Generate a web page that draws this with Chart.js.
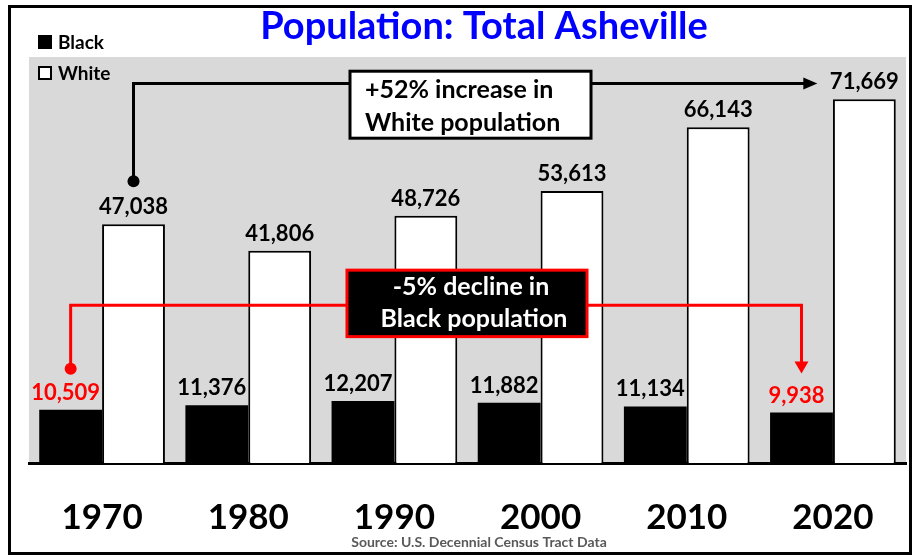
<!DOCTYPE html>
<html>
<head>
<meta charset="utf-8">
<script src="https://cdn.jsdelivr.net/npm/chart.js@4.4.1/dist/chart.umd.min.js"></script>
<style>
  body { margin: 0; background: #fff; }
  canvas { display: block; }
</style>
</head>
<body>
<canvas id="chart" width="913" height="557"></canvas>
<script>
// Dados
const anos = ['1970', '1980', '1990', '2000', '2010', '2020'];
const populacaoNegra = [10509, 11376, 12207, 11882, 11134, 9938];
const populacaoBranca = [47038, 41806, 48726, 53613, 66143, 71669];
const titulo = 'Population: Total Asheville';
const fonte = 'Source: U.S. Decennial Census Tract Data';
const notaBranca = ['+52% increase in', 'White population'];
const notaNegra = ['-5% decline in', 'Black population'];

const FONTE = 'Lato, "Open Sans", sans-serif';
const CINZA = '#d9d9d9';

// Fundo cinza, moldura, título, legenda e fonte
const fundoPlugin = {
  id: 'fundo',
  beforeDraw(chart) {
    const { ctx, chartArea: a } = chart;
    ctx.save();
    ctx.fillStyle = '#fff';
    ctx.fillRect(0, 0, chart.width, chart.height);
    ctx.fillStyle = CINZA;
    ctx.fillRect(a.left, a.top, a.right - a.left, a.bottom - a.top);
    ctx.restore();
  },
  afterDraw(chart) {
    const { ctx } = chart;
    ctx.save();
    // moldura
    ctx.strokeStyle = '#000';
    ctx.lineWidth = 3;
    ctx.strokeRect(9.5, 6.5, 901, 547);
    // título
    ctx.fillStyle = '#0000ff';
    ctx.font = `bold 38px ${FONTE}`;
    ctx.textAlign = 'center';
    ctx.textBaseline = 'middle';
    ctx.fillText(titulo, 484, 27);
    // legenda
    ctx.font = `bold 19px ${FONTE}`;
    ctx.textAlign = 'left';
    ctx.fillStyle = '#000';
    ctx.fillRect(38, 35, 14, 14);
    ctx.fillText(chart.data.datasets[0].label, 58, 43);
    ctx.fillStyle = '#fff';
    ctx.fillRect(39, 67, 12, 12);
    ctx.lineWidth = 2;
    ctx.strokeRect(39, 67, 12, 12);
    ctx.fillStyle = '#000';
    ctx.fillText(chart.data.datasets[1].label, 58, 74);
    // fonte dos dados
    ctx.fillStyle = '#595959';
    ctx.font = `bold 14px ${FONTE}`;
    ctx.textAlign = 'center';
    ctx.fillText(fonte, 479, 542);
    ctx.restore();
  }
};

// ponta de seta (tam = meia largura, comp = comprimento)
function seta(ctx, x, y, dir, cor, tam, comp) {
  ctx.fillStyle = cor;
  ctx.beginPath();
  if (dir === 'direita') {
    ctx.moveTo(x, y);
    ctx.lineTo(x - comp, y - tam);
    ctx.lineTo(x - comp, y + tam);
  } else {
    ctx.moveTo(x, y);
    ctx.lineTo(x - tam, y - comp);
    ctx.lineTo(x + tam, y - comp);
  }
  ctx.closePath();
  ctx.fill();
}

// Rótulos das barras e anotações
const rotulosPlugin = {
  id: 'rotulos',
  afterDatasetsDraw(chart) {
    const { ctx } = chart;
    const y = chart.scales.y;
    const pretas = chart.getDatasetMeta(0).data;
    const brancas = chart.getDatasetMeta(1).data;
    const ultimo = anos.length - 1;
    ctx.save();
    ctx.font = `bold 22px ${FONTE}`;
    ctx.textAlign = 'center';
    ctx.textBaseline = 'alphabetic';
    pretas.forEach((bar, i) => {
      ctx.fillStyle = (i === 0 || i === ultimo) ? '#ff0000' : '#000';
      ctx.fillText(populacaoNegra[i].toLocaleString('en-US'), bar.x - 5, bar.y - 10);
    });
    brancas.forEach((bar, i) => {
      ctx.fillStyle = '#000';
      ctx.fillText(populacaoBranca[i].toLocaleString('en-US'), bar.x, bar.y - 10);
    });

    // anotação branca: ponto acima de 1970 até 2020
    const bx = brancas[0].x;
    const by = brancas[0].y - 43;
    const linhaY = y.getPixelForValue(74800);
    ctx.strokeStyle = '#000';
    ctx.lineWidth = 3;
    ctx.beginPath();
    ctx.moveTo(bx, by);
    ctx.lineTo(bx, linhaY);
    ctx.lineTo(brancas[ultimo].x - 58, linhaY);
    ctx.stroke();
    seta(ctx, brancas[ultimo].x - 47, linhaY, 'direita', '#000', 6, 14);
    ctx.fillStyle = '#000';
    ctx.beginPath();
    ctx.arc(bx, by, 6, 0, Math.PI * 2);
    ctx.fill();
    const caixa1 = { x1: 350, x2: 591, y1: y.getPixelForValue(77200), y2: y.getPixelForValue(64000) };
    ctx.fillStyle = '#fff';
    ctx.fillRect(caixa1.x1, caixa1.y1, caixa1.x2 - caixa1.x1, caixa1.y2 - caixa1.y1);
    ctx.strokeRect(caixa1.x1, caixa1.y1, caixa1.x2 - caixa1.x1, caixa1.y2 - caixa1.y1);
    ctx.fillStyle = '#000';
    ctx.font = `bold 25px ${FONTE}`;
    ctx.textAlign = 'left';
    ctx.fillText(notaBranca[0], 365, caixa1.y1 + 27);
    ctx.fillText(notaBranca[1], 365, caixa1.y1 + 60);

    // anotação preta: ponto em 1970 até 2020, em vermelho
    const px = pretas[0].x;
    const py = pretas[0].y - 41;
    const linhaV = y.getPixelForValue(31100);
    const ponta = pretas[ultimo].y - 39;
    ctx.strokeStyle = '#ff0000';
    ctx.beginPath();
    ctx.moveTo(px, py);
    ctx.lineTo(px, linhaV);
    ctx.lineTo(pretas[ultimo].x, linhaV);
    ctx.lineTo(pretas[ultimo].x, ponta - 10);
    ctx.stroke();
    seta(ctx, pretas[ultimo].x, ponta, 'baixo', '#ff0000', 7, 12);
    ctx.fillStyle = '#ff0000';
    ctx.beginPath();
    ctx.arc(px, py, 6, 0, Math.PI * 2);
    ctx.fill();
    const caixa2 = { x1: 347, x2: 587, y1: y.getPixelForValue(38000), y2: y.getPixelForValue(24900) };
    ctx.fillStyle = '#000';
    ctx.fillRect(caixa2.x1, caixa2.y1, caixa2.x2 - caixa2.x1, caixa2.y2 - caixa2.y1);
    ctx.strokeRect(caixa2.x1, caixa2.y1, caixa2.x2 - caixa2.x1, caixa2.y2 - caixa2.y1);
    ctx.fillStyle = '#fff';
    ctx.textAlign = 'center';
    ctx.fillText(notaNegra[0], 471, caixa2.y1 + 25);
    ctx.fillText(notaNegra[1], 474, caixa2.y1 + 57);
    ctx.restore();
  }
};

new Chart(document.getElementById('chart'), {
  type: 'bar',
  data: {
    labels: anos,
    datasets: [{
      label: 'Black',
      data: populacaoNegra,
      backgroundColor: '#000',
      borderWidth: 0,
      categoryPercentage: 0.86,
      barPercentage: 1
    }, {
      label: 'White',
      data: populacaoBranca,
      backgroundColor: '#fff',
      borderColor: '#000',
      borderWidth: 2,
      categoryPercentage: 0.86,
      barPercentage: 1
    }]
  },
  options: {
    responsive: false,
    animation: false,
    layout: { padding: { left: 29, right: 7, top: 57, bottom: 0 } },
    plugins: {
      legend: { display: false },
      title: { display: false },
      tooltip: { enabled: false }
    },
    scales: {
      x: {
        grid: { display: false, drawTicks: false },
        border: { display: true, color: '#000', width: 3 },
        ticks: {
          color: '#000',
          padding: 34,
          font: { family: FONTE, size: 35, weight: 'bold' }
        },
        afterFit(scale) { scale.height = 94; }
      },
      y: {
        display: false,
        min: 0,
        max: 80000
      }
    }
  },
  plugins: [fundoPlugin, rotulosPlugin]
});
</script>
</body>
</html>
